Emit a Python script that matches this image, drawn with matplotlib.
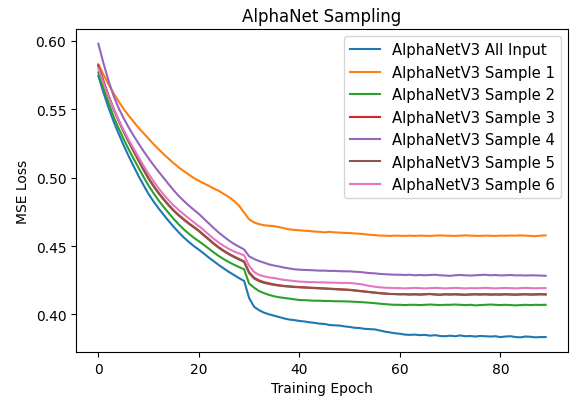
import matplotlib
matplotlib.use("Agg")
import matplotlib.pyplot as plt
import numpy as np

epochs = np.arange(90)

# values (MSE loss per epoch)
all_input = [
    0.5745, 0.5625, 0.5515, 0.5415, 0.5325, 0.5240, 0.5160, 0.5085, 0.5012, 0.4945,
    0.4880, 0.4825, 0.4775, 0.4728, 0.4683, 0.4640, 0.4600, 0.4563, 0.4530, 0.4500,
    0.4473, 0.4445, 0.4415, 0.4388, 0.4360, 0.4335, 0.4310, 0.4288, 0.4265, 0.4245,
    0.4120, 0.4055, 0.4030, 0.4012, 0.4000, 0.3990, 0.3980, 0.3970, 0.3962, 0.3958,
    0.3952, 0.3948, 0.3942, 0.3938, 0.3932, 0.3930, 0.3922, 0.3920, 0.3918, 0.3912,
    0.3908, 0.3902, 0.3900, 0.3894, 0.3892, 0.3890, 0.3882, 0.3874, 0.3868, 0.3862,
    0.3858, 0.3852, 0.3850, 0.3852, 0.3848, 0.3850, 0.3844, 0.3848, 0.3842, 0.3840,
    0.3844, 0.3840, 0.3846, 0.3840, 0.3842, 0.3838, 0.3842, 0.3840, 0.3838, 0.3840,
    0.3834, 0.3838, 0.3840, 0.3834, 0.3832, 0.3838, 0.3836, 0.3832, 0.3834, 0.3834,
]
sample_1 = [
    0.5830, 0.5755, 0.5685, 0.5620, 0.5560, 0.5505, 0.5455, 0.5410, 0.5365, 0.5325,
    0.5285, 0.5245, 0.5208, 0.5172, 0.5138, 0.5105, 0.5075, 0.5048, 0.5022, 0.4998,
    0.4977, 0.4958, 0.4940, 0.4920, 0.4903, 0.4880, 0.4858, 0.4830, 0.4795, 0.4745,
    0.4695, 0.4672, 0.4660, 0.4652, 0.4648, 0.4645, 0.4638, 0.4630, 0.4622, 0.4618,
    0.4615, 0.4612, 0.4610, 0.4606, 0.4604, 0.4600, 0.4604, 0.4600, 0.4598, 0.4596,
    0.4595, 0.4592, 0.4590, 0.4586, 0.4582, 0.4580, 0.4576, 0.4576, 0.4574, 0.4576,
    0.4575, 0.4574, 0.4576, 0.4574, 0.4576, 0.4575, 0.4574, 0.4576, 0.4578, 0.4576,
    0.4575, 0.4574, 0.4576, 0.4578, 0.4576, 0.4575, 0.4574, 0.4576, 0.4575, 0.4574,
    0.4576, 0.4575, 0.4577, 0.4576, 0.4578, 0.4576, 0.4574, 0.4572, 0.4576, 0.4578,
]
sample_2 = [
    0.5770, 0.5655, 0.5550, 0.5450, 0.5365, 0.5285, 0.5210, 0.5140, 0.5072, 0.5005,
    0.4942, 0.4885, 0.4833, 0.4786, 0.4741, 0.4698, 0.4658, 0.4622, 0.4590, 0.4561,
    0.4535, 0.4508, 0.4480, 0.4452, 0.4426, 0.4403, 0.4382, 0.4363, 0.4346, 0.4330,
    0.4225, 0.4195, 0.4170, 0.4155, 0.4142, 0.4132, 0.4125, 0.4120, 0.4115, 0.4110,
    0.4105, 0.4104, 0.4102, 0.4100, 0.4100, 0.4098, 0.4098, 0.4096, 0.4096, 0.4095,
    0.4094, 0.4092, 0.4090, 0.4088, 0.4085, 0.4082, 0.4078, 0.4075, 0.4072, 0.4070,
    0.4070, 0.4068, 0.4070, 0.4070, 0.4068, 0.4070, 0.4072, 0.4070, 0.4068, 0.4070,
    0.4070, 0.4072, 0.4070, 0.4068, 0.4070, 0.4066, 0.4068, 0.4070, 0.4072, 0.4070,
    0.4068, 0.4070, 0.4068, 0.4066, 0.4068, 0.4070, 0.4068, 0.4070, 0.4069, 0.4070,
]
sample_3 = [
    0.5822, 0.5708, 0.5603, 0.5508, 0.5423, 0.5343, 0.5268, 0.5198, 0.5128, 0.5060,
    0.4996, 0.4940, 0.4889, 0.4843, 0.4800, 0.4761, 0.4727, 0.4696, 0.4667, 0.4640,
    0.4613, 0.4581, 0.4550, 0.4518, 0.4490, 0.4465, 0.4443, 0.4423, 0.4405, 0.4388,
    0.4308, 0.4268, 0.4248, 0.4235, 0.4227, 0.4219, 0.4213, 0.4208, 0.4205, 0.4202,
    0.4200, 0.4198, 0.4196, 0.4194, 0.4192, 0.4190, 0.4188, 0.4186, 0.4184, 0.4182,
    0.4180, 0.4176, 0.4172, 0.4168, 0.4164, 0.4160, 0.4156, 0.4153, 0.4150, 0.4149,
    0.4148, 0.4148, 0.4146, 0.4148, 0.4146, 0.4148, 0.4150, 0.4146, 0.4144, 0.4148,
    0.4146, 0.4148, 0.4146, 0.4144, 0.4146, 0.4148, 0.4146, 0.4148, 0.4146, 0.4147,
    0.4146, 0.4148, 0.4146, 0.4145, 0.4147, 0.4148, 0.4146, 0.4147, 0.4148, 0.4147,
]
sample_4 = [
    0.5980, 0.5840, 0.5712, 0.5602, 0.5512, 0.5438, 0.5370, 0.5308, 0.5250, 0.5194,
    0.5141, 0.5091, 0.5044, 0.4998, 0.4952, 0.4907, 0.4866, 0.4830, 0.4796, 0.4765,
    0.4735, 0.4700, 0.4665, 0.4630, 0.4597, 0.4568, 0.4540, 0.4515, 0.4495, 0.4475,
    0.4425, 0.4405, 0.4390, 0.4378, 0.4365, 0.4357, 0.4350, 0.4342, 0.4336, 0.4330,
    0.4327, 0.4325, 0.4324, 0.4322, 0.4320, 0.4320, 0.4318, 0.4318, 0.4316, 0.4315,
    0.4315, 0.4312, 0.4310, 0.4306, 0.4302, 0.4300, 0.4296, 0.4294, 0.4292, 0.4290,
    0.4290, 0.4288, 0.4290, 0.4286, 0.4288, 0.4286, 0.4288, 0.4290, 0.4286, 0.4284,
    0.4282, 0.4286, 0.4288, 0.4286, 0.4284, 0.4286, 0.4288, 0.4290, 0.4286, 0.4288,
    0.4285, 0.4286, 0.4288, 0.4285, 0.4286, 0.4284, 0.4286, 0.4285, 0.4284, 0.4282,
]
sample_5 = [
    0.5818, 0.5704, 0.5599, 0.5504, 0.5419, 0.5339, 0.5264, 0.5194, 0.5124, 0.5056,
    0.4992, 0.4936, 0.4885, 0.4839, 0.4796, 0.4757, 0.4723, 0.4692, 0.4663, 0.4636,
    0.4609, 0.4577, 0.4546, 0.4514, 0.4486, 0.4461, 0.4439, 0.4419, 0.4401, 0.4384,
    0.4302, 0.4262, 0.4242, 0.4230, 0.4222, 0.4215, 0.4210, 0.4206, 0.4203, 0.4200,
    0.4198, 0.4196, 0.4194, 0.4192, 0.4190, 0.4188, 0.4186, 0.4184, 0.4182, 0.4180,
    0.4178, 0.4174, 0.4170, 0.4166, 0.4162, 0.4158, 0.4154, 0.4151, 0.4149, 0.4148,
    0.4146, 0.4147, 0.4145, 0.4146, 0.4144, 0.4146, 0.4148, 0.4145, 0.4143, 0.4146,
    0.4145, 0.4146, 0.4144, 0.4143, 0.4145, 0.4146, 0.4145, 0.4146, 0.4144, 0.4145,
    0.4144, 0.4146, 0.4145, 0.4143, 0.4145, 0.4146, 0.4144, 0.4145, 0.4146, 0.4145,
]
sample_6 = [
    0.5800, 0.5695, 0.5595, 0.5505, 0.5425, 0.5350, 0.5280, 0.5215, 0.5150, 0.5087,
    0.5028, 0.4973, 0.4922, 0.4876, 0.4834, 0.4796, 0.4763, 0.4732, 0.4703, 0.4674,
    0.4646, 0.4615, 0.4583, 0.4552, 0.4524, 0.4500, 0.4478, 0.4460, 0.4446, 0.4432,
    0.4355, 0.4310, 0.4288, 0.4278, 0.4270, 0.4266, 0.4258, 0.4252, 0.4248, 0.4244,
    0.4240, 0.4238, 0.4236, 0.4236, 0.4234, 0.4234, 0.4232, 0.4232, 0.4230, 0.4230,
    0.4230, 0.4226, 0.4222, 0.4215, 0.4208, 0.4202, 0.4198, 0.4195, 0.4194, 0.4192,
    0.4192, 0.4190, 0.4192, 0.4194, 0.4192, 0.4190, 0.4192, 0.4194, 0.4192, 0.4190,
    0.4192, 0.4194, 0.4192, 0.4190, 0.4192, 0.4191, 0.4192, 0.4194, 0.4192, 0.4190,
    0.4192, 0.4193, 0.4192, 0.4190, 0.4192, 0.4194, 0.4192, 0.4191, 0.4192, 0.4192,
]

series = {
    'AlphaNetV3 All Input': all_input,
    'AlphaNetV3 Sample 1': sample_1,
    'AlphaNetV3 Sample 2': sample_2,
    'AlphaNetV3 Sample 3': sample_3,
    'AlphaNetV3 Sample 4': sample_4,
    'AlphaNetV3 Sample 5': sample_5,
    'AlphaNetV3 Sample 6': sample_6,
}

fig = plt.figure(figsize=(5.73, 4.06), dpi=100)
ax = fig.add_axes([0.1326, 0.1305, 0.8587, 0.7955])
for label, vals in series.items():
    ax.plot(epochs, vals, label=label, linewidth=1.5)

ax.set_title('AlphaNet Sampling', fontsize=12)
ax.set_xlabel('Training Epoch')
ax.set_ylabel('MSE Loss')
ax.set_xticks([0, 20, 40, 60, 80])
ax.set_yticks([0.40, 0.45, 0.50, 0.55, 0.60])
ax.legend(loc='upper right', fontsize=10.7)

fig.savefig('out.png', dpi=100)
